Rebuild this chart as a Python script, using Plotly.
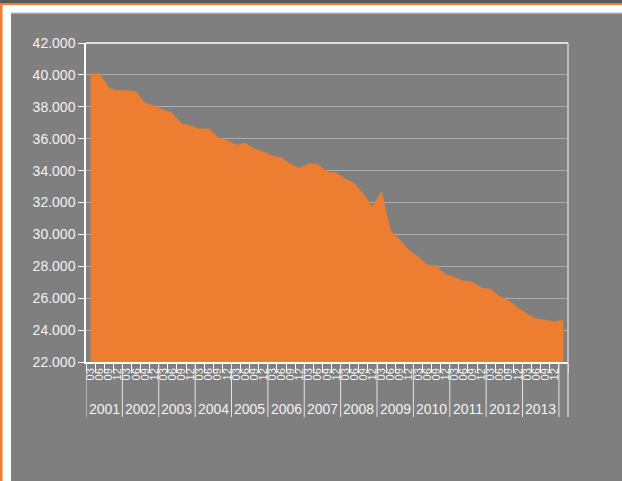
import plotly.graph_objects as go

years = [str(y) for y in range(2001, 2015) for _ in range(4)][:53]
quarters = ["03", "06", "09", "12"] * 13 + ["03"]
values = [
    40050, 40100, 39200, 39010, 39030, 38950, 38240, 38070, 37800, 37610,
    36940, 36810, 36610, 36630, 36090, 35900, 35600, 35730, 35370, 35190,
    34910, 34810, 34410, 34160, 34430, 34390, 33930, 33850, 33490, 33200,
    32530, 31740, 32680, 30230, 29650, 29020, 28600, 28100, 28020, 27520,
    27310, 27100, 27000, 26660, 26560, 26090, 25840, 25400, 25030, 24710,
    24630, 24530, 24630,
]
y_ticks = list(range(22000, 42001, 2000))

W, H = 622, 481
L, R, T, B = 86, 54, 43, 119
pw, ph = W - L - R, H - T - B


def px(x):
    return (x - L) / pw


def py(y):
    return 1 - (y - T) / ph


GRAY = "#7f7f7f"
ORANGE = "#ED7D31"
TXT = "#f2f2f2"

ids = [f"{y}-{q}" for y, q in zip(years, quarters)]
n = len(ids)

groups = []
for i, y in enumerate(years):
    if groups and groups[-1][0] == y:
        groups[-1][2] = i
    else:
        groups.append([y, i, i])
full = {g[0] for g in groups if g[2] - g[1] + 1 == 4}
ticktext = [q if y in full else "" for y, q in zip(years, quarters)]

fig = go.Figure()
fig.add_trace(go.Scatter(
    x=ids, y=values, mode="lines", fill="tozeroy",
    fillcolor=ORANGE, line=dict(color=ORANGE, width=0.5), hoverinfo="skip",
))

shapes = [
    dict(type="rect", xref="paper", yref="paper", x0=px(0), x1=px(11), y0=py(H), y1=py(0),
         fillcolor="white", line_width=0, layer="below"),
    dict(type="rect", xref="paper", yref="paper", x0=px(0), x1=px(W), y0=py(13), y1=py(0),
         fillcolor="white", line_width=0, layer="below"),
    dict(type="rect", xref="paper", yref="paper", x0=px(11), x1=px(W), y0=py(13.5), y1=py(12),
         fillcolor="#d9d9d9", line_width=0, layer="below"),
    dict(type="rect", xref="paper", yref="paper", x0=px(0), x1=px(2.5), y0=py(H), y1=py(3),
         fillcolor=ORANGE, line_width=0, layer="below"),
    dict(type="rect", xref="paper", yref="paper", x0=px(0), x1=px(W), y0=py(5), y1=py(3),
         fillcolor=ORANGE, line_width=0, layer="below"),
    dict(type="rect", xref="paper", yref="paper", x0=px(0), x1=px(W), y0=py(3), y1=py(0),
         fillcolor="#595959", line_width=0, layer="below"),
    dict(type="line", xref="paper", yref="paper", x0=0, x1=1, y0=1, y1=1,
         line=dict(color="white", width=1.5)),
    dict(type="line", xref="paper", yref="paper", x0=1, x1=1, y0=py(417), y1=1,
         line=dict(color="#d0d0d0", width=1.5)),
]
annotations = []
for y, i0, i1 in groups:
    shapes.append(dict(type="line", xref="x", yref="paper", x0=i0 - 0.5, x1=i0 - 0.5,
                       y0=py(417), y1=0, line=dict(color="#e6e6e6", width=1)))
    if y in full:
        annotations.append(dict(x=(i0 + i1) / 2, xref="x", y=py(409), yref="paper",
                                text=y, showarrow=False, yanchor="middle",
                                font=dict(size=14, color=TXT)))

fig.update_layout(
    width=W, height=H,
    margin=dict(l=L, r=R, t=T, b=B),
    paper_bgcolor=GRAY, plot_bgcolor=GRAY,
    separators=",.",
    showlegend=False,
    shapes=shapes,
    annotations=annotations,
    font=dict(family="Liberation Sans, Arial, sans-serif", color=TXT),
)
fig.update_xaxes(
    type="category", categoryorder="array", categoryarray=ids,
    range=[-0.5, n - 0.5],
    tickmode="array", tickvals=ids, ticktext=ticktext,
    tickangle=-90, tickfont=dict(size=11, color=TXT),
    showline=True, linecolor="white", linewidth=1.5,
    ticks="outside", ticklen=9, tickcolor="white", tickson="boundaries",
    showgrid=False, zeroline=False,
)
fig.update_yaxes(
    range=[22000, 42000], tickvals=y_ticks, tickformat=",d",
    tickfont=dict(size=14, color=TXT),
    showline=True, linecolor="white", linewidth=1.5,
    ticks="outside", ticklen=6, tickcolor="white",
    showgrid=True, gridcolor="#acacac", gridwidth=1, zeroline=False,
)

fig.write_html("out.html", config={"displayModeBar": False},
               post_script="document.body.style.margin='0';document.body.style.overflow='hidden';")
